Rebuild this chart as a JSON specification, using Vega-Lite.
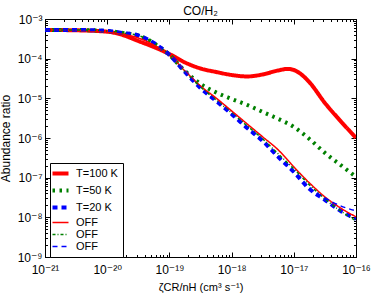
{
  "$schema": "https://vega.github.io/schema/vega-lite/v6.json",
  "autosize": {"type": "none"},
  "width": 311,
  "height": 238,
  "padding": {"left": 45, "top": 19, "right": 18, "bottom": 43},
  "background": "white",
  "config": {
    "view": {"stroke": "black", "strokeWidth": 1},
    "font": "Liberation Sans",
    "axis": {"grid": false, "domainColor": "black", "tickColor": "black", "labelColor": "black", "titleColor": "black", "labelFont": "Liberation Sans, DejaVu Sans", "titleFont": "Liberation Sans, DejaVu Sans", "titleFontWeight": "normal"}
  },
  "title": {"text": "CO/H₂", "fontSize": 12, "fontWeight": "normal", "font": "Liberation Sans, DejaVu Sans", "color": "black", "offset": 3, "dy": 8},
  "data": {"values": [
    {"s": "a", "x": 1e-21, "y": 5.3e-4},
    {"s": "a", "x": 3.16e-21, "y": 5.19e-4},
    {"s": "a", "x": 1e-20, "y": 4.79e-4},
    {"s": "a", "x": 1.78e-20, "y": 3.95e-4},
    {"s": "a", "x": 3.16e-20, "y": 2.79e-4},
    {"s": "a", "x": 5.62e-20, "y": 1.97e-4},
    {"s": "a", "x": 1e-19, "y": 1.31e-4},
    {"s": "a", "x": 1.78e-19, "y": 8.02e-5},
    {"s": "a", "x": 3.16e-19, "y": 5.66e-5},
    {"s": "a", "x": 5.62e-19, "y": 4.62e-5},
    {"s": "a", "x": 1e-18, "y": 3.88e-5},
    {"s": "a", "x": 1.78e-18, "y": 3.56e-5},
    {"s": "a", "x": 3.16e-18, "y": 4.0e-5},
    {"s": "a", "x": 5.62e-18, "y": 5.05e-5},
    {"s": "a", "x": 7.94e-18, "y": 5.51e-5},
    {"s": "a", "x": 1e-17, "y": 5.19e-5},
    {"s": "a", "x": 1.26e-17, "y": 4.24e-5},
    {"s": "a", "x": 1.78e-17, "y": 2.55e-5},
    {"s": "a", "x": 3.16e-17, "y": 7.66e-6},
    {"s": "a", "x": 5.62e-17, "y": 2.7e-6},
    {"s": "a", "x": 1e-16, "y": 1.01e-6},

    {"s": "b", "x": 1e-21, "y": 5.3e-4},
    {"s": "b", "x": 3.16e-21, "y": 5.28e-4},
    {"s": "b", "x": 1e-20, "y": 4.99e-4},
    {"s": "b", "x": 1.78e-20, "y": 4.44e-4},
    {"s": "b", "x": 3.16e-20, "y": 3.84e-4},
    {"s": "b", "x": 5.62e-20, "y": 2.48e-4},
    {"s": "b", "x": 1e-19, "y": 1.24e-4},
    {"s": "b", "x": 1.78e-19, "y": 4.9e-5},
    {"s": "b", "x": 3.16e-19, "y": 2.31e-5},
    {"s": "b", "x": 5.62e-19, "y": 1.41e-5},
    {"s": "b", "x": 1e-18, "y": 9.66e-6},
    {"s": "b", "x": 1.78e-18, "y": 6.82e-6},
    {"s": "b", "x": 3.16e-18, "y": 4.54e-6},
    {"s": "b", "x": 5.62e-18, "y": 3.03e-6},
    {"s": "b", "x": 1e-17, "y": 1.91e-6},
    {"s": "b", "x": 1.78e-17, "y": 9.48e-7},
    {"s": "b", "x": 3.16e-17, "y": 4.22e-7},
    {"s": "b", "x": 5.62e-17, "y": 2.1e-7},
    {"s": "b", "x": 1e-16, "y": 1.05e-7},

    {"s": "c", "x": 1e-21, "y": 5.3e-4},
    {"s": "c", "x": 3.16e-21, "y": 5.28e-4},
    {"s": "c", "x": 1e-20, "y": 4.99e-4},
    {"s": "c", "x": 1.78e-20, "y": 4.44e-4},
    {"s": "c", "x": 3.16e-20, "y": 3.84e-4},
    {"s": "c", "x": 5.62e-20, "y": 2.48e-4},
    {"s": "c", "x": 1e-19, "y": 1.24e-4},
    {"s": "c", "x": 1.78e-19, "y": 4.62e-5},
    {"s": "c", "x": 3.16e-19, "y": 1.83e-5},
    {"s": "c", "x": 5.62e-19, "y": 8.61e-6},
    {"s": "c", "x": 1e-18, "y": 4.05e-6},
    {"s": "c", "x": 1.78e-18, "y": 1.79e-6},
    {"s": "c", "x": 3.16e-18, "y": 8.45e-7},
    {"s": "c", "x": 5.62e-18, "y": 3.34e-7},
    {"s": "c", "x": 1e-17, "y": 1.4e-7},
    {"s": "c", "x": 1.78e-17, "y": 5.22e-8},
    {"s": "c", "x": 3.16e-17, "y": 2.76e-8},
    {"s": "c", "x": 5.62e-17, "y": 1.46e-8},
    {"s": "c", "x": 1e-16, "y": 9.16e-9},

    {"s": "d", "x": 1e-21, "y": 5.3e-4},
    {"s": "d", "x": 3.16e-21, "y": 5.13e-4},
    {"s": "d", "x": 1e-20, "y": 4.71e-4},
    {"s": "d", "x": 1.78e-20, "y": 4.19e-4},
    {"s": "d", "x": 3.16e-20, "y": 3.32e-4},
    {"s": "d", "x": 5.62e-20, "y": 2.21e-4},
    {"s": "d", "x": 1e-19, "y": 1.24e-4},
    {"s": "d", "x": 1.78e-19, "y": 4.9e-5},
    {"s": "d", "x": 3.16e-19, "y": 2.05e-5},
    {"s": "d", "x": 5.62e-19, "y": 1.02e-5},
    {"s": "d", "x": 1e-18, "y": 4.82e-6},
    {"s": "d", "x": 1.78e-18, "y": 2.26e-6},
    {"s": "d", "x": 3.16e-18, "y": 1.07e-6},
    {"s": "d", "x": 5.62e-18, "y": 5.01e-7},
    {"s": "d", "x": 1e-17, "y": 1.87e-7},
    {"s": "d", "x": 1.78e-17, "y": 7.4e-8},
    {"s": "d", "x": 3.16e-17, "y": 3.28e-8},
    {"s": "d", "x": 5.62e-17, "y": 1.73e-8},
    {"s": "d", "x": 1e-16, "y": 1.03e-8},

    {"s": "e", "x": 1e-21, "y": 5.3e-4},
    {"s": "e", "x": 3.16e-21, "y": 5.28e-4},
    {"s": "e", "x": 1e-20, "y": 4.99e-4},
    {"s": "e", "x": 1.78e-20, "y": 4.44e-4},
    {"s": "e", "x": 3.16e-20, "y": 3.84e-4},
    {"s": "e", "x": 5.62e-20, "y": 2.48e-4},
    {"s": "e", "x": 1e-19, "y": 1.24e-4},
    {"s": "e", "x": 1.78e-19, "y": 4.62e-5},
    {"s": "e", "x": 3.16e-19, "y": 1.94e-5},
    {"s": "e", "x": 5.62e-19, "y": 9.12e-6},
    {"s": "e", "x": 1e-18, "y": 4.29e-6},
    {"s": "e", "x": 1.78e-18, "y": 2.02e-6},
    {"s": "e", "x": 3.16e-18, "y": 9.48e-7},
    {"s": "e", "x": 5.62e-18, "y": 3.97e-7},
    {"s": "e", "x": 1e-17, "y": 1.67e-7},
    {"s": "e", "x": 1.78e-17, "y": 6.59e-8},
    {"s": "e", "x": 3.16e-17, "y": 2.92e-8},
    {"s": "e", "x": 5.62e-17, "y": 1.46e-8},
    {"s": "e", "x": 1e-16, "y": 8.17e-9},

    {"s": "f", "x": 1e-21, "y": 5.3e-4},
    {"s": "f", "x": 3.16e-21, "y": 5.28e-4},
    {"s": "f", "x": 1e-20, "y": 4.99e-4},
    {"s": "f", "x": 1.78e-20, "y": 4.44e-4},
    {"s": "f", "x": 3.16e-20, "y": 3.84e-4},
    {"s": "f", "x": 5.62e-20, "y": 2.48e-4},
    {"s": "f", "x": 1e-19, "y": 1.24e-4},
    {"s": "f", "x": 1.78e-19, "y": 4.62e-5},
    {"s": "f", "x": 3.16e-19, "y": 1.83e-5},
    {"s": "f", "x": 5.62e-19, "y": 8.61e-6},
    {"s": "f", "x": 1e-18, "y": 4.05e-6},
    {"s": "f", "x": 1.78e-18, "y": 1.79e-6},
    {"s": "f", "x": 3.16e-18, "y": 8.45e-7},
    {"s": "f", "x": 5.62e-18, "y": 3.34e-7},
    {"s": "f", "x": 1e-17, "y": 1.4e-7},
    {"s": "f", "x": 1.78e-17, "y": 5.53e-8},
    {"s": "f", "x": 3.16e-17, "y": 3.1e-8},
    {"s": "f", "x": 5.62e-17, "y": 1.95e-8},
    {"s": "f", "x": 1e-16, "y": 1.46e-8}
  ]},
  "resolve": {"axis": {"x": "independent", "y": "independent"}},
  "layer": [
    {
      "mark": {"type": "line", "interpolate": "monotone", "clip": true},
      "encoding": {
        "x": {"field": "x", "type": "quantitative", "scale": {"type": "log", "domain": [1e-21, 1e-16], "nice": false},
          "axis": {"orient": "bottom", "values": [1e-21, 1e-20, 1e-19, 1e-18, 1e-17, 1e-16], "tickSize": -5, "labelPadding": 12, "labelFontSize": 12, "labelFlush": false,
            "labelExpr": "'10' + replace(replace(replace(replace(replace(replace(replace(replace(replace(replace(replace(toString(round(log(datum.value)/LN10)),'-','⁻'),'0','⁰'),'1','¹'),'2','²'),'3','³'),'4','⁴'),'5','⁵'),'6','⁶'),'7','⁷'),'8','⁸'),'9','⁹')",
            "title": "ζCR/nH (cm³ s⁻¹)", "titleFontSize": 11, "titlePadding": 6}},
        "y": {"field": "y", "type": "quantitative", "scale": {"type": "log", "domain": [1e-9, 1e-3], "nice": false},
          "axis": {"orient": "left", "values": [1e-9, 1e-8, 1e-7, 1e-6, 1e-5, 1e-4, 1e-3], "tickSize": -5, "labelPadding": 8, "labelFontSize": 12,
            "labelExpr": "'10' + replace(replace(replace(replace(replace(replace(replace(replace(replace(replace(replace(toString(round(log(datum.value)/LN10)),'-','⁻'),'0','⁰'),'1','¹'),'2','²'),'3','³'),'4','⁴'),'5','⁵'),'6','⁶'),'7','⁷'),'8','⁸'),'9','⁹')",
            "title": "Abundance ratio", "titleFontSize": 12, "titlePadding": 5}},
        "color": {"field": "s", "type": "nominal",
          "scale": {"domain": ["a", "b", "c", "d", "e", "f"], "range": ["#ff0000", "#008000", "#0000ff", "#ff0000", "#008000", "#0000ff"]},
          "legend": {"orient": "none", "legendX": 5, "legendY": 144, "title": null, "strokeColor": "black", "fillColor": "white", "padding": 5, "cornerRadius": 0,
            "symbolType": "stroke", "symbolSize": 256, "labelFontSize": 11, "labelFont": "Liberation Sans", "labelColor": "black", "labelOffset": 10, "rowPadding": 0,
            "labelExpr": "datum.value == 'a' ? 'T=100 K' : datum.value == 'b' ? 'T=50 K' : datum.value == 'c' ? 'T=20 K' : 'OFF'",
            "encode": {"symbols": {"update": {"strokeWidth": {"signal": "indexof(['a','b','c'], datum.value) >= 0 ? 4 : 1.5"}}}}}},
        "strokeDash": {"field": "s", "type": "nominal",
          "scale": {"domain": ["a", "b", "c", "d", "e", "f"], "range": [[1, 0], [2.5, 4.5], [5, 4], [1, 0], [3, 2, 1, 2], [5, 4]]}},
        "strokeWidth": {"condition": {"test": "indexof(['a','b','c'], datum.s) >= 0", "value": 4}, "value": 1.5}
      }
    },
    {
      "mark": {"type": "point", "opacity": 0},
      "encoding": {
        "x": {"field": "x", "type": "quantitative", "scale": {"type": "log", "domain": [1e-21, 1e-16], "nice": false},
          "axis": {"orient": "top", "values": [1e-21, 1e-20, 1e-19, 1e-18, 1e-17, 1e-16], "tickSize": -5, "labels": false, "title": null}},
        "y": {"field": "y", "type": "quantitative", "scale": {"type": "log", "domain": [1e-9, 1e-3], "nice": false},
          "axis": {"orient": "right", "values": [1e-9, 1e-8, 1e-7, 1e-6, 1e-5, 1e-4, 1e-3], "tickSize": -5, "labels": false, "title": null}}
      }
    },
    {
      "mark": {"type": "point", "opacity": 0},
      "encoding": {
        "x": {"field": "x", "type": "quantitative", "scale": {"type": "log", "domain": [1e-21, 1e-16], "nice": false},
          "axis": {"orient": "bottom", "domain": false, "tickSize": -2.5, "labels": false, "title": null,
            "values": [2e-21, 3e-21, 4e-21, 5e-21, 6e-21, 7e-21, 8e-21, 9e-21, 2e-20, 3e-20, 4e-20, 5e-20, 6e-20, 7e-20, 8e-20, 9e-20, 2e-19, 3e-19, 4e-19, 5e-19, 6e-19, 7e-19, 8e-19, 9e-19, 2e-18, 3e-18, 4e-18, 5e-18, 6e-18, 7e-18, 8e-18, 9e-18, 2e-17, 3e-17, 4e-17, 5e-17, 6e-17, 7e-17, 8e-17, 9e-17]}},
        "y": {"field": "y", "type": "quantitative", "scale": {"type": "log", "domain": [1e-9, 1e-3], "nice": false},
          "axis": {"orient": "left", "domain": false, "tickSize": -2.5, "labels": false, "title": null,
            "values": [2e-9, 3e-9, 4e-9, 5e-9, 6e-9, 7e-9, 8e-9, 9e-9, 2e-8, 3e-8, 4e-8, 5e-8, 6e-8, 7e-8, 8e-8, 9e-8, 2e-7, 3e-7, 4e-7, 5e-7, 6e-7, 7e-7, 8e-7, 9e-7, 2e-6, 3e-6, 4e-6, 5e-6, 6e-6, 7e-6, 8e-6, 9e-6, 2e-5, 3e-5, 4e-5, 5e-5, 6e-5, 7e-5, 8e-5, 9e-5, 2e-4, 3e-4, 4e-4, 5e-4, 6e-4, 7e-4, 8e-4, 9e-4]}}
      }
    },
    {
      "mark": {"type": "point", "opacity": 0},
      "encoding": {
        "x": {"field": "x", "type": "quantitative", "scale": {"type": "log", "domain": [1e-21, 1e-16], "nice": false},
          "axis": {"orient": "top", "domain": false, "tickSize": -2.5, "labels": false, "title": null,
            "values": [2e-21, 3e-21, 4e-21, 5e-21, 6e-21, 7e-21, 8e-21, 9e-21, 2e-20, 3e-20, 4e-20, 5e-20, 6e-20, 7e-20, 8e-20, 9e-20, 2e-19, 3e-19, 4e-19, 5e-19, 6e-19, 7e-19, 8e-19, 9e-19, 2e-18, 3e-18, 4e-18, 5e-18, 6e-18, 7e-18, 8e-18, 9e-18, 2e-17, 3e-17, 4e-17, 5e-17, 6e-17, 7e-17, 8e-17, 9e-17]}},
        "y": {"field": "y", "type": "quantitative", "scale": {"type": "log", "domain": [1e-9, 1e-3], "nice": false},
          "axis": {"orient": "right", "domain": false, "tickSize": -2.5, "labels": false, "title": null,
            "values": [2e-9, 3e-9, 4e-9, 5e-9, 6e-9, 7e-9, 8e-9, 9e-9, 2e-8, 3e-8, 4e-8, 5e-8, 6e-8, 7e-8, 8e-8, 9e-8, 2e-7, 3e-7, 4e-7, 5e-7, 6e-7, 7e-7, 8e-7, 9e-7, 2e-6, 3e-6, 4e-6, 5e-6, 6e-6, 7e-6, 8e-6, 9e-6, 2e-5, 3e-5, 4e-5, 5e-5, 6e-5, 7e-5, 8e-5, 9e-5, 2e-4, 3e-4, 4e-4, 5e-4, 6e-4, 7e-4, 8e-4, 9e-4]}}
      }
    }
  ]
}
